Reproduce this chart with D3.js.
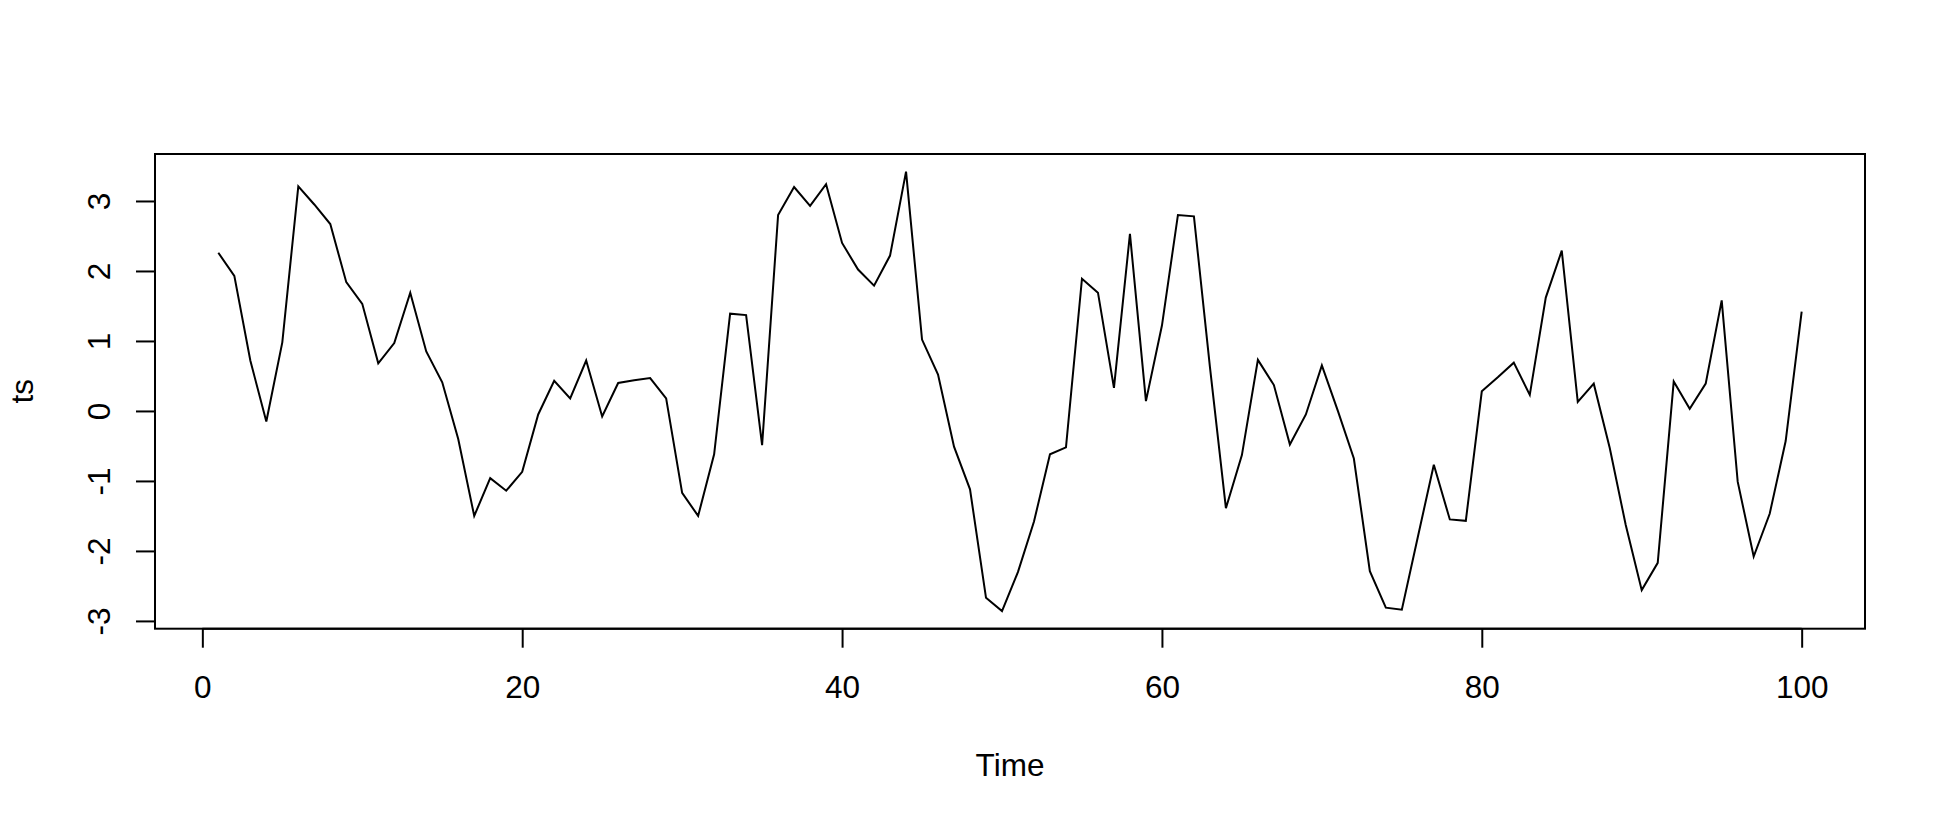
<!DOCTYPE html>
<html>
<head>
<meta charset="utf-8">
<script src="https://cdn.jsdelivr.net/npm/d3@7"></script>
<style>
  body { margin: 0; background: #ffffff; }
  text { font-family: "Liberation Sans", Arial, sans-serif; font-size: 31.5px; fill: #000000; }
</style>
</head>
<body>
<div class="chart-container"></div>
<script>
// series, t = 1..100
const values = [
   2.26,  1.93,  0.72, -0.15,  0.98,  3.21,  2.95,  2.67,  1.84,  1.53,
   0.68,  0.97,  1.69,  0.85,  0.41, -0.40, -1.50, -0.96, -1.14, -0.87,
  -0.05,  0.43,  0.18,  0.72, -0.08,  0.40,  0.44,  0.47,  0.18, -1.17,
  -1.50, -0.62,  1.39,  1.37, -0.49,  2.80,  3.20,  2.93,  3.24,  2.40,
   2.02,  1.79,  2.22,  3.42,  1.02,  0.52, -0.51, -1.12, -2.67, -2.86,
  -2.30, -1.58, -0.62, -0.52,  1.89,  1.69,  0.33,  2.53,  0.14,  1.22,
   2.80,  2.78,  0.63, -1.39, -0.63,  0.73,  0.37, -0.48, -0.05,  0.65,
   0.00, -0.68, -2.29, -2.81, -2.84, -1.80, -0.77, -1.55, -1.57,  0.28,
   0.48,  0.69,  0.23,  1.62,  2.29,  0.13,  0.39, -0.53, -1.63, -2.56,
  -2.17,  0.42,  0.03,  0.39,  1.58, -1.01, -2.08, -1.47, -0.43,  1.42
];
const times = values.map((v, i) => i + 1);
const xTicks = [0, 20, 40, 60, 80, 100];
const yTicks = [-3, -2, -1, 0, 1, 2, 3];
const xLabel = "Time";
const yLabel = "ts";

const width = 1938, height = 820;
const box = { left: 155, right: 1865, top: 154, bottom: 628.7 };
const tickLen = 19;
const fontCss = "\"Liberation Sans\", Arial, sans-serif";

// R style range: data extent widened by 4% each side
const pad = function(ext) {
    var d = (ext[1] - ext[0]) * 0.04;
    return [ext[0] - d, ext[1] + d];
};

const x = d3.scaleLinear().domain(pad(d3.extent(times))).range([box.left, box.right]);
const y = d3.scaleLinear().domain(pad(d3.extent(values))).range([box.bottom, box.top]);

const svg = d3.select(".chart-container")
    .append("svg")
    .attr("width", width)
    .attr("height", height)
    .attr("viewBox", `0 0 ${width} ${height}`);

// the series
const line = d3.line().x((d, i) => x(times[i])).y(d => y(d));
svg.append("path")
    .datum(values)
    .attr("d", line)
    .attr("fill", "none")
    .attr("stroke", "#000")
    .attr("stroke-width", 2)
    .attr("stroke-linejoin", "miter");

// x axis
const xAxis = d3.axisBottom(x).tickValues(xTicks).tickSize(tickLen).tickPadding(0).tickFormat(d3.format("d"));
const gx = svg.append("g")
    .attr("transform", `translate(0,${box.bottom})`)
    .call(xAxis);
gx.select(".domain").attr("d", `M${x(xTicks[0])},0H${x(xTicks[xTicks.length - 1])}`);
gx.selectAll("text")
    .attr("font-size", null)
    .attr("y", 69.5)
    .attr("dy", null)
    .style("font-family", fontCss)
    .style("font-size", "31.5px");

// y axis, labels turned along the axis as R does
const yAxis = d3.axisLeft(y).tickValues(yTicks).tickSize(tickLen).tickPadding(0).tickFormat(d3.format("d"));
const gy = svg.append("g")
    .attr("transform", `translate(${box.left},0)`)
    .call(yAxis);
gy.select(".domain").attr("d", `M0,${y(yTicks[0])}V${y(yTicks[yTicks.length - 1])}`);
gy.selectAll(".tick text")
    .attr("x", null)
    .attr("dy", null)
    .attr("font-size", null)
    .attr("text-anchor", "middle")
    .attr("transform", "translate(-45,0) rotate(-90)")
    .style("font-family", fontCss)
    .style("font-size", "31.5px")
    .text(d => d3.format("d")(d).replace("\u2212", "-"));

svg.selectAll(".domain, .tick line")
    .attr("stroke", "#000")
    .attr("stroke-width", 2);

// plot frame
svg.append("rect")
    .attr("x", box.left).attr("y", box.top)
    .attr("width", box.right - box.left).attr("height", box.bottom - box.top)
    .attr("fill", "none").attr("stroke", "#000").attr("stroke-width", 2);

// axis titles
svg.append("text")
    .attr("x", (box.left + box.right) / 2)
    .attr("y", 776)
    .attr("text-anchor", "middle")
    .text(xLabel);

svg.append("text")
    .attr("transform", `translate(33,${(box.top + box.bottom) / 2}) rotate(-90)`)
    .attr("text-anchor", "middle")
    .text(yLabel);
</script>
</body>
</html>
